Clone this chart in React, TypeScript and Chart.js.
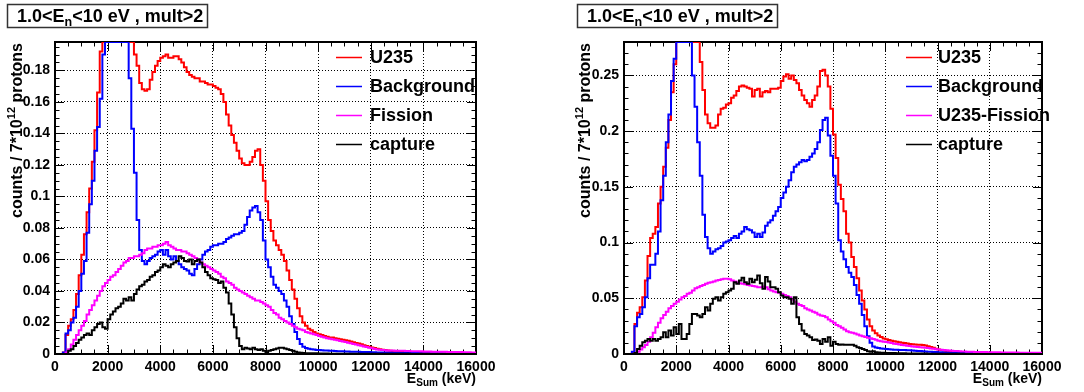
import React, { useEffect, useRef } from "react";
import { Chart, registerables } from "chart.js";

Chart.register(...registerables);

const FONT = '"Liberation Sans", Arial, Helvetica, sans-serif';

// ---------- axes ----------
const BIN_WIDTH = 100; // keV per histogram bin
const X_MAX = 16000;
const X_MINOR_STEP = 500;
const xTicks = [0, 2000, 4000, 6000, 8000, 10000, 12000, 14000, 16000];
const xTickLabels = ["0", "2000", "4000", "6000", "8000", "10000", "12000", "14000", "16000"];

const Y_MAX_LEFT = 0.198;
const yTicksLeft = [0, 0.02, 0.04, 0.06, 0.08, 0.1, 0.12, 0.14, 0.16, 0.18];
const yTickLabelsLeft = ["0", "0.02", "0.04", "0.06", "0.08", "0.1", "0.12", "0.14", "0.16", "0.18"];

const Y_MAX_RIGHT = 0.28;
const yTicksRight = [0, 0.05, 0.1, 0.15, 0.2, 0.25];
const yTickLabelsRight = ["0", "0.05", "0.1", "0.15", "0.2", "0.25"];

// ---------- texts ----------
const titleMain = "1.0<E";
const titleSub = "n";
const titleRest = "<10 eV , mult>2";
const yTitleA = "counts / 7*10";
const yTitleSup = "12";
const yTitleB = " protons";
const xTitleA = "E";
const xTitleSub = "Sum";
const xTitleB = " (keV)";

const labelsLeft = ["U235", "Background", "Fission", "capture"];
const labelsRight = ["U235", "Background", "U235-Fission", "capture"];

// ---------- left panel series (bins of 100 keV, 0..16000 keV) ----------
const u235Left = [
  0, 0, 0, 0.001, 0.012, 0.018, 0.022, 0.028, 0.038, 0.05,
  0.063, 0.076, 0.09, 0.105, 0.122, 0.142, 0.166, 0.192, 0.21, 0.24,
  0.27, 0.29, 0.3, 0.31, 0.3, 0.29, 0.27, 0.25, 0.23, 0.205,
  0.19, 0.183, 0.172, 0.168, 0.167, 0.168, 0.174, 0.179, 0.183, 0.186,
  0.188, 0.189, 0.19, 0.188, 0.188, 0.189, 0.189, 0.187, 0.185, 0.182,
  0.179, 0.177, 0.176, 0.175, 0.175, 0.173, 0.173, 0.172, 0.171, 0.171,
  0.17, 0.169, 0.168, 0.165, 0.16, 0.152, 0.145, 0.139, 0.134, 0.129,
  0.124, 0.121, 0.12, 0.12, 0.122, 0.125, 0.129, 0.13, 0.12, 0.11,
  0.097, 0.085, 0.078, 0.072, 0.069, 0.066, 0.063, 0.059, 0.053, 0.047,
  0.041, 0.035, 0.029, 0.024, 0.02, 0.018, 0.016, 0.015, 0.014, 0.013,
  0.0125, 0.012, 0.0115, 0.011, 0.0105, 0.0105, 0.01, 0.0097, 0.0094, 0.0091,
  0.0088, 0.0084, 0.008, 0.0075, 0.007, 0.0066, 0.0062, 0.0056, 0.0051, 0.0046,
  0.0042, 0.0038, 0.0034, 0.003, 0.0027, 0.0025, 0.0022, 0.002, 0.0018, 0.0017,
  0.0015, 0.0014, 0.0012, 0.0011, 0.001, 0.0009, 0.0009, 0.0008, 0.0007, 0.0007,
  0.0006, 0.0006, 0.0005, 0.0005, 0.0005, 0.0004, 0.0004, 0.0004, 0.0004, 0.0003,
  0.0003, 0.0003, 0.0003, 0.0003, 0.0002, 0.0002, 0.0002, 0.0002, 0.0002, 0.0002,
];

const backgroundLeft = [
  0, 0, 0, 0.001, 0.013, 0.015, 0.02, 0.023, 0.03, 0.04,
  0.051, 0.059, 0.077, 0.095, 0.11, 0.129, 0.144, 0.162, 0.19, 0.21,
  0.24, 0.26, 0.27, 0.27, 0.26, 0.24, 0.23, 0.22, 0.175, 0.143,
  0.115, 0.085, 0.066, 0.059, 0.057, 0.059, 0.061, 0.062, 0.063, 0.065,
  0.066, 0.063, 0.066, 0.062, 0.06, 0.062, 0.059, 0.057, 0.055, 0.054,
  0.053, 0.051, 0.05, 0.054, 0.057, 0.06, 0.063, 0.065, 0.066, 0.068,
  0.069, 0.069, 0.07, 0.07, 0.071, 0.073, 0.074, 0.075, 0.076, 0.076,
  0.077, 0.078, 0.082, 0.087, 0.091, 0.093, 0.094, 0.09, 0.085, 0.072,
  0.06, 0.055, 0.049, 0.044, 0.042, 0.04, 0.038, 0.034, 0.03, 0.024,
  0.019, 0.014, 0.0095, 0.0063, 0.0046, 0.0038, 0.0034, 0.003, 0.0028, 0.0026,
  0.0025, 0.0024, 0.0023, 0.0022, 0.0021, 0.002, 0.0019, 0.0018, 0.0018, 0.0017,
  0.0016, 0.0016, 0.0015, 0.0015, 0.0014, 0.0014, 0.0013, 0.0013, 0.0012, 0.0012,
  0.0011, 0.0011, 0.001, 0.001, 0.001, 0.0009, 0.0009, 0.0009, 0.0008, 0.0008,
  0.0008, 0.0007, 0.0007, 0.0007, 0.0006, 0.0006, 0.0006, 0.0006, 0.0005, 0.0005,
  0.0005, 0.0005, 0.0004, 0.0004, 0.0004, 0.0004, 0.0004, 0.0003, 0.0003, 0.0003,
  0.0003, 0.0003, 0.0003, 0.0002, 0.0002, 0.0002, 0.0002, 0.0002, 0.0002, 0.0002,
];

const fissionLeft = [
  0, 0, 0, 0, 0.001, 0.003, 0.006, 0.009, 0.012, 0.015,
  0.018, 0.021, 0.025, 0.028, 0.031, 0.034, 0.037, 0.04, 0.043, 0.045,
  0.047, 0.049, 0.05, 0.052, 0.054, 0.056, 0.058, 0.059, 0.061, 0.061,
  0.062, 0.062, 0.063, 0.064, 0.066, 0.067, 0.067, 0.068, 0.068, 0.069,
  0.069, 0.07, 0.071, 0.069, 0.068, 0.067, 0.066, 0.066, 0.065, 0.065,
  0.064, 0.063, 0.062, 0.061, 0.06, 0.058, 0.057, 0.056, 0.055, 0.054,
  0.053, 0.052, 0.051, 0.049, 0.048, 0.046, 0.045, 0.044, 0.042, 0.041,
  0.04, 0.039, 0.038, 0.037, 0.036, 0.035, 0.034, 0.034, 0.033, 0.032,
  0.031, 0.03, 0.028, 0.026, 0.025, 0.023, 0.022, 0.021, 0.02, 0.019,
  0.018, 0.017, 0.016, 0.0155, 0.015, 0.014, 0.0135, 0.013, 0.0125, 0.012,
  0.0115, 0.011, 0.0105, 0.01, 0.0097, 0.0094, 0.009, 0.0087, 0.0083, 0.008,
  0.0076, 0.0072, 0.0068, 0.0064, 0.006, 0.0056, 0.0052, 0.0048, 0.0044, 0.004,
  0.0036, 0.0032, 0.0029, 0.0027, 0.0025, 0.0024, 0.0023, 0.0022, 0.0022, 0.0021,
  0.0021, 0.002, 0.002, 0.0019, 0.0019, 0.0018, 0.0018, 0.0017, 0.0017, 0.0017,
  0.0016, 0.0016, 0.0016, 0.0015, 0.0015, 0.0015, 0.0014, 0.0014, 0.0014, 0.0013,
  0.0013, 0.0013, 0.0012, 0.0012, 0.0012, 0.0011, 0.0011, 0.0011, 0.001, 0.001,
];

const captureLeft = [
  0, 0, 0, 0, 0, 0.002, 0.003, 0.005, 0.007, 0.009,
  0.0105, 0.012, 0.013, 0.012, 0.015, 0.017, 0.019, 0.02, 0.017, 0.016,
  0.022, 0.025, 0.027, 0.029, 0.03, 0.032, 0.035, 0.034, 0.036, 0.034,
  0.038, 0.041, 0.043, 0.044, 0.046, 0.047, 0.049, 0.05, 0.052, 0.053,
  0.055, 0.057, 0.056, 0.055, 0.057, 0.058, 0.059, 0.062, 0.061, 0.059,
  0.0587, 0.06, 0.057, 0.059, 0.06, 0.058, 0.055, 0.052, 0.05, 0.048,
  0.0475, 0.047, 0.045, 0.046, 0.042, 0.039, 0.032, 0.025, 0.017, 0.01,
  0.005, 0.003, 0.004, 0.0035, 0.003, 0.004, 0.003, 0.0025, 0.003, 0.002,
  0.001, 0.002, 0.0025, 0.003, 0.0035, 0.004, 0.004, 0.0035, 0.003, 0.0025,
  0.002, 0.0015, 0.001, 0.0008, 0.0006, 0.0005, 0.0005, 0.0004, 0.0004, 0.0004,
  0.0003, 0.0003, 0.0003, 0.0003, 0.0002, 0.0002, 0.0002, 0.0002, 0.0002, 0.0002,
  0.0002, 0.0002, 0.0002, 0.0002, 0.0002, 0.0001, 0.0001, 0.0001, 0.0001, 0.0001,
  0.0001, 0.0001, 0.0001, 0.0001, 0.0001, 0.0001, 0.0001, 0.0001, 0.0001, 0.0001,
  0.0001, 0.0001, 0.0001, 0.0001, 0.0001, 0, 0, 0, 0, 0,
  0, 0, 0, 0, 0, 0, 0, 0, 0, 0,
  0, 0, 0, 0, 0, 0, 0, 0, 0, 0,
];

// ---------- right panel series ----------
const u235Right = [
  0, 0, 0, 0.001, 0.027, 0.037, 0.042, 0.051, 0.066, 0.088,
  0.104, 0.108, 0.114, 0.135, 0.15, 0.168, 0.185, 0.21, 0.235, 0.26,
  0.29, 0.31, 0.32, 0.33, 0.33, 0.32, 0.31, 0.3, 0.285, 0.262,
  0.237, 0.215, 0.207, 0.203, 0.203, 0.205, 0.215, 0.22, 0.221, 0.224,
  0.225, 0.23, 0.232, 0.236, 0.24, 0.241, 0.24, 0.239, 0.238, 0.231,
  0.237, 0.238, 0.231, 0.235, 0.236, 0.235, 0.238, 0.238, 0.238, 0.239,
  0.245, 0.249, 0.251, 0.247, 0.25, 0.246, 0.243, 0.237, 0.232, 0.228,
  0.225, 0.222, 0.228, 0.232, 0.24, 0.254, 0.255, 0.25, 0.24, 0.22,
  0.197, 0.176, 0.152, 0.139, 0.128, 0.108, 0.1, 0.087, 0.078, 0.068,
  0.057, 0.048, 0.04, 0.031, 0.025, 0.021, 0.0186, 0.0165, 0.0152, 0.014,
  0.0132, 0.0126, 0.012, 0.0115, 0.011, 0.0106, 0.0102, 0.0099, 0.0094, 0.009,
  0.0087, 0.0085, 0.0084, 0.0082, 0.008, 0.0076, 0.007, 0.0062, 0.0055, 0.0047,
  0.004, 0.0036, 0.0032, 0.0028, 0.0026, 0.0024, 0.0022, 0.002, 0.0019, 0.0017,
  0.0016, 0.0015, 0.0014, 0.0013, 0.0013, 0.0012, 0.0011, 0.0011, 0.001, 0.001,
  0.001, 0.0009, 0.0009, 0.0009, 0.0008, 0.0008, 0.0008, 0.0008, 0.0007, 0.0007,
  0.0007, 0.0007, 0.0006, 0.0006, 0.0006, 0.0006, 0.0005, 0.0005, 0.0005, 0.0005,
];

const backgroundRight = [
  0, 0, 0, 0.002, 0.025, 0.033, 0.036, 0.042, 0.051, 0.068,
  0.08, 0.08, 0.09, 0.11, 0.138, 0.16, 0.19, 0.215, 0.245, 0.265,
  0.3, 0.33, 0.35, 0.35, 0.33, 0.3, 0.25, 0.222, 0.19, 0.16,
  0.125, 0.105, 0.095, 0.09, 0.092, 0.094, 0.095, 0.097, 0.1, 0.101,
  0.102, 0.104, 0.106, 0.104, 0.108, 0.11, 0.114, 0.112, 0.111, 0.109,
  0.105, 0.108, 0.105, 0.109, 0.115, 0.118, 0.12, 0.124, 0.128, 0.132,
  0.14, 0.145, 0.15, 0.156, 0.163, 0.168, 0.17, 0.172, 0.174, 0.173,
  0.174, 0.177, 0.18, 0.184, 0.19, 0.201, 0.21, 0.212, 0.196, 0.178,
  0.16, 0.135, 0.102, 0.092, 0.085, 0.078, 0.073, 0.069, 0.062, 0.053,
  0.045, 0.035, 0.025, 0.016, 0.01, 0.0068, 0.0058, 0.0054, 0.005, 0.0046,
  0.0044, 0.0042, 0.004, 0.0039, 0.0038, 0.0037, 0.0036, 0.0035, 0.0034, 0.0033,
  0.0032, 0.003, 0.0028, 0.0026, 0.0024, 0.0023, 0.0021, 0.002, 0.0018, 0.0017,
  0.0016, 0.0015, 0.0014, 0.0013, 0.0012, 0.0012, 0.0011, 0.001, 0.001, 0.0009,
  0.0009, 0.0009, 0.0008, 0.0008, 0.0008, 0.0007, 0.0007, 0.0007, 0.0006, 0.0006,
  0.0006, 0.0006, 0.0005, 0.0005, 0.0005, 0.0005, 0.0005, 0.0004, 0.0004, 0.0004,
  0.0004, 0.0004, 0.0004, 0.0003, 0.0003, 0.0003, 0.0003, 0.0003, 0.0003, 0.0003,
];

const fissionRight = [
  0, 0, 0, 0, 0.001, 0.002, 0.004, 0.006, 0.008, 0.011,
  0.015, 0.019, 0.024, 0.028, 0.032, 0.035, 0.038, 0.041, 0.043, 0.045,
  0.047, 0.049, 0.051, 0.052, 0.054, 0.055, 0.057, 0.059, 0.06, 0.061,
  0.062, 0.063, 0.064, 0.0645, 0.065, 0.066, 0.0665, 0.067, 0.0675, 0.0675,
  0.067, 0.066, 0.065, 0.064, 0.0635, 0.063, 0.0625, 0.062, 0.0615, 0.061,
  0.0605, 0.06, 0.06, 0.0605, 0.06, 0.058, 0.057, 0.056, 0.0555, 0.055,
  0.054, 0.053, 0.052, 0.051, 0.049, 0.047, 0.045, 0.044, 0.043, 0.041,
  0.04, 0.039, 0.038, 0.037, 0.0355, 0.0345, 0.034, 0.033, 0.031, 0.0295,
  0.028, 0.026, 0.025, 0.0235, 0.022, 0.0205, 0.0195, 0.019, 0.0185, 0.0175,
  0.0165, 0.016, 0.0152, 0.0146, 0.0141, 0.0135, 0.0127, 0.012, 0.0115, 0.011,
  0.0107, 0.0103, 0.0098, 0.0093, 0.0089, 0.0085, 0.0081, 0.0078, 0.0074, 0.0071,
  0.0068, 0.0066, 0.0063, 0.0061, 0.0058, 0.0056, 0.0054, 0.005, 0.0046, 0.0043,
  0.0041, 0.0039, 0.0036, 0.0034, 0.0032, 0.003, 0.0028, 0.0027, 0.0025, 0.0023,
  0.0022, 0.0021, 0.002, 0.002, 0.0019, 0.0019, 0.0018, 0.0017, 0.0017, 0.0016,
  0.0016, 0.0015, 0.0015, 0.0015, 0.0014, 0.0014, 0.0014, 0.0013, 0.0013, 0.0013,
  0.0013, 0.0012, 0.0012, 0.0012, 0.0012, 0.0011, 0.0011, 0.0011, 0.0011, 0.0011,
];

const captureRight = [
  0, 0, 0, 0, 0.001, 0.0045, 0.0075, 0.0105, 0.012, 0.0135,
  0.012, 0.0135, 0.012, 0.0135, 0.015, 0.0195, 0.015, 0.021, 0.0165, 0.024,
  0.018, 0.027, 0.0135, 0.0135, 0.018, 0.027, 0.036, 0.036, 0.0345, 0.033,
  0.036, 0.042, 0.039, 0.045, 0.0495, 0.051, 0.048, 0.051, 0.054, 0.0555,
  0.057, 0.0585, 0.0645, 0.063, 0.066, 0.0684, 0.0645, 0.063, 0.0675, 0.0645,
  0.0666, 0.0705, 0.0636, 0.0585, 0.069, 0.065, 0.06, 0.06, 0.0585, 0.0555,
  0.0525, 0.051, 0.051, 0.0495, 0.045, 0.051, 0.033, 0.027, 0.021, 0.018,
  0.0165, 0.015, 0.0126, 0.013, 0.012, 0.009, 0.0135, 0.011, 0.015, 0.0075,
  0.011, 0.009, 0.0084, 0.0086, 0.0082, 0.0084, 0.0083, 0.0084, 0.0075, 0.006,
  0.0054, 0.0045, 0.0036, 0.0024, 0.002, 0.0024, 0.0015, 0.0013, 0.0012, 0.0011,
  0.001, 0.0009, 0.0008, 0.0008, 0.0007, 0.0007, 0.0006, 0.0006, 0.0005, 0.0005,
  0.0005, 0.0005, 0.0004, 0.0004, 0.0004, 0.0004, 0.0003, 0.0003, 0.0003, 0.0003,
  0.0003, 0.0003, 0.0002, 0.0002, 0.0002, 0.0002, 0.0002, 0.0002, 0.0002, 0.0002,
  0.0001, 0.0001, 0.0001, 0.0001, 0.0001, 0.0001, 0.0001, 0.0001, 0.0001, 0.0001,
  0.0001, 0.0001, 0.0001, 0.0001, 0.0001, 0, 0, 0, 0, 0,
  0, 0, 0, 0, 0, 0, 0, 0, 0, 0,
];

const COLORS = ["#ff0000", "#0000ff", "#ff00ff", "#000000"];

// ---------- layout (per panel) ----------
type Layout = {
  canvasLeft: number;
  yAxisWidth: number;
  rightPad: number;
  boxX: number;
  yTitleX: number;
  legX1: number;
  legX2: number;
  legTX: number;
};
const CANVAS_W = 542;
const CANVAS_H = 392;
const PLOT_TOP = 42;
const X_AXIS_H = 38;
const LEGEND_ROWS = [57, 86, 115, 144];

const layoutLeft: Layout = { canvasLeft: 0, yAxisWidth: 55, rightPad: 66, boxX: 7, yTitleX: 18, legX1: 336, legX2: 362, legTX: 370 };
const layoutRight: Layout = { canvasLeft: 542, yAxisWidth: 82, rightPad: 42, boxX: 35, yTitleX: 44, legX1: 364, legX2: 390, legTX: 396 };

type Part = { text: string; size: number; dy?: number };

function partsWidth(ctx: CanvasRenderingContext2D, parts: Part[]) {
  let w = 0;
  for (const p of parts) {
    ctx.font = `bold ${p.size}px ${FONT}`;
    w += ctx.measureText(p.text).width;
  }
  return w;
}
function drawParts(ctx: CanvasRenderingContext2D, x: number, y: number, parts: Part[]) {
  let cx = x;
  for (const p of parts) {
    ctx.font = `bold ${p.size}px ${FONT}`;
    ctx.fillText(p.text, cx, y + (p.dy || 0));
    cx += ctx.measureText(p.text).width;
  }
}

function histPoints(values: number[], yMax: number) {
  const pts = values.map((v, i) => ({ x: i * BIN_WIDTH, y: Math.min(v, yMax) }));
  pts.push({ x: values.length * BIN_WIDTH, y: Math.min(values[values.length - 1], yMax) });
  return pts;
}

type PanelProps = {
  layout: Layout;
  yMax: number;
  yTicks: number[];
  yTickLabels: string[];
  yMinorStep: number;
  minorPerMajor: number;
  labels: string[];
  series: number[][];
};

function rootStyle(p: PanelProps) {
  const L = p.layout;
  return {
    id: "rootStyle",
    beforeDatasetsDraw(chart: any) {
      const { ctx, chartArea: a, scales } = chart;
      const xs = scales.x;
      const ys = scales.y;
      ctx.save();
      ctx.strokeStyle = "#000";
      ctx.lineWidth = 1;
      ctx.beginPath();
      const nx = Math.round(X_MAX / X_MINOR_STEP);
      for (let k = 0; k <= nx; k++) {
        const px = Math.round(xs.getPixelForValue(k * X_MINOR_STEP)) + 0.5;
        const len = k % 4 === 0 ? 9 : 4.5;
        ctx.moveTo(px, a.bottom);
        ctx.lineTo(px, a.bottom - len);
        ctx.moveTo(px, a.top);
        ctx.lineTo(px, a.top + len);
      }
      const ny = Math.floor(p.yMax / p.yMinorStep + 1e-6);
      for (let k = 0; k <= ny; k++) {
        const py = Math.round(ys.getPixelForValue(k * p.yMinorStep)) + 0.5;
        const len = k % p.minorPerMajor === 0 ? 9 : 4.5;
        ctx.moveTo(a.left, py);
        ctx.lineTo(a.left + len, py);
        ctx.moveTo(a.right, py);
        ctx.lineTo(a.right - len, py);
      }
      ctx.stroke();
      ctx.lineWidth = 2;
      ctx.strokeRect(a.left, a.top, a.right - a.left, a.bottom - a.top);
      ctx.restore();
    },
    afterDraw(chart: any) {
      const { ctx, chartArea: a } = chart;
      ctx.save();
      ctx.fillStyle = "#000";
      ctx.textBaseline = "alphabetic";
      ctx.textAlign = "left";

      // title box
      ctx.fillStyle = "#fff";
      ctx.fillRect(L.boxX, 4, 200, 23);
      ctx.strokeStyle = "#333";
      ctx.lineWidth = 1.5;
      ctx.strokeRect(L.boxX + 0.5, 4.5, 200, 23);
      ctx.fillStyle = "#000";
      drawParts(ctx, L.boxX + 10, 22, [
        { text: titleMain, size: 18 },
        { text: titleSub, size: 12.5, dy: 4 },
        { text: titleRest, size: 18 },
      ]);

      // legend
      ctx.textBaseline = "middle";
      p.labels.forEach((lab, i) => {
        const y = LEGEND_ROWS[i];
        ctx.strokeStyle = COLORS[i];
        ctx.lineWidth = 1.5;
        ctx.beginPath();
        ctx.moveTo(L.legX1, y + 0.5);
        ctx.lineTo(L.legX2, y + 0.5);
        ctx.stroke();
        ctx.fillStyle = "#000";
        ctx.font = `bold 18px ${FONT}`;
        ctx.fillText(lab, L.legTX, y + 1);
      });

      // y title (rotated, ends at top of frame)
      const yParts: Part[] = [
        { text: yTitleA, size: 16 },
        { text: yTitleSup, size: 11, dy: -6 },
        { text: yTitleB, size: 16 },
      ];
      const yw = partsWidth(ctx, yParts);
      ctx.save();
      ctx.translate(L.yTitleX, a.top + 1);
      ctx.rotate(-Math.PI / 2);
      ctx.textBaseline = "middle";
      drawParts(ctx, -yw, 0, yParts);
      ctx.restore();

      // x title (right aligned)
      ctx.textBaseline = "alphabetic";
      const xParts: Part[] = [
        { text: xTitleA, size: 14 },
        { text: xTitleSub, size: 10, dy: 3 },
        { text: xTitleB, size: 14 },
      ];
      const xw = partsWidth(ctx, xParts);
      drawParts(ctx, a.right - xw, 383, xParts);
      ctx.restore();
    },
  };
}

function HistPanel(p: PanelProps) {
  const ref = useRef<HTMLCanvasElement>(null);
  useEffect(() => {
    const canvas = ref.current;
    if (!canvas) return;
    const L = p.layout;
    const chart = new Chart(canvas, {
      type: "line",
      data: {
        datasets: p.series.map((vals, i) => ({
          label: p.labels[i],
          data: histPoints(vals, p.yMax),
          borderColor: COLORS[i],
          backgroundColor: COLORS[i],
          borderWidth: 2,
          pointRadius: 0,
          pointHoverRadius: 0,
          stepped: "before" as const,
          fill: false,
          tension: 0,
          borderJoinStyle: "miter" as const,
          order: 4 - i,
        })),
      },
      options: {
        responsive: false,
        animation: false,
        events: [],
        layout: { padding: { left: 0, right: L.rightPad, top: PLOT_TOP, bottom: 0 } },
        plugins: { legend: { display: false }, tooltip: { enabled: false }, title: { display: false } },
        scales: {
          x: {
            type: "linear",
            min: 0,
            max: X_MAX,
            afterBuildTicks: (s: any) => {
              s.ticks = xTicks.map((v) => ({ value: v }));
            },
            afterFit: (s: any) => {
              s.height = X_AXIS_H;
            },
            ticks: {
              autoSkip: false,
              maxRotation: 0,
              minRotation: 0,
              padding: 5,
              color: "#000",
              font: { family: FONT, size: 14, weight: "bold" },
              callback: (_v: any, i: number) => xTickLabels[i],
            },
            grid: { color: "#000", lineWidth: 1, drawTicks: false },
            border: { display: false, dash: [1, 2] },
          },
          y: {
            type: "linear",
            min: 0,
            max: p.yMax,
            afterBuildTicks: (s: any) => {
              s.ticks = p.yTicks.map((v) => ({ value: v }));
            },
            afterFit: (s: any) => {
              s.width = L.yAxisWidth;
            },
            ticks: {
              padding: 5,
              color: "#000",
              font: { family: FONT, size: 14, weight: "bold" },
              callback: (_v: any, i: number) => p.yTickLabels[i],
            },
            grid: { color: "#000", lineWidth: 1, drawTicks: false },
            border: { display: false, dash: [1, 2] },
          },
        },
      } as any,
      plugins: [rootStyle(p)],
    });
    return () => chart.destroy();
  }, []);
  return (
    <canvas
      ref={ref}
      width={CANVAS_W}
      height={CANVAS_H}
      style={{ position: "absolute", left: p.layout.canvasLeft, top: 0, width: CANVAS_W, height: CANVAS_H }}
    />
  );
}

export default function App() {
  return (
    <div style={{ position: "absolute", left: 0, top: 0, width: 1084, height: 392, background: "#fff", overflow: "hidden" }}>
      <HistPanel
        layout={layoutLeft}
        yMax={Y_MAX_LEFT}
        yTicks={yTicksLeft}
        yTickLabels={yTickLabelsLeft}
        yMinorStep={0.005}
        minorPerMajor={4}
        labels={labelsLeft}
        series={[u235Left, backgroundLeft, fissionLeft, captureLeft]}
      />
      <HistPanel
        layout={layoutRight}
        yMax={Y_MAX_RIGHT}
        yTicks={yTicksRight}
        yTickLabels={yTickLabelsRight}
        yMinorStep={0.01}
        minorPerMajor={5}
        labels={labelsRight}
        series={[u235Right, backgroundRight, fissionRight, captureRight]}
      />
    </div>
  );
}
